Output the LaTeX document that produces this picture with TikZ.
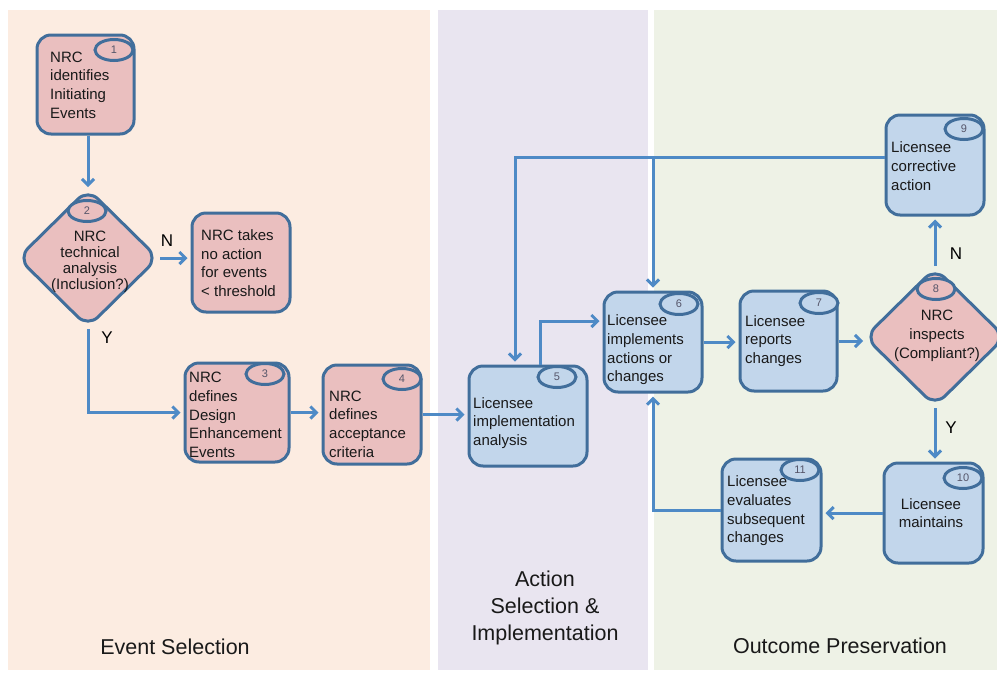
\documentclass[tikz,border=0pt]{standalone}
\usepackage{fontspec}
\setmainfont{Liberation Sans}
\usetikzlibrary{shapes.geometric,arrows.meta}
\definecolor{peach}{RGB}{252,236,225}
\definecolor{lav}{RGB}{233,229,240}
\definecolor{sage}{RGB}{238,242,230}
\definecolor{pinkf}{RGB}{234,191,191}
\definecolor{bluef}{RGB}{194,214,235}
\definecolor{bordc}{RGB}{65,110,155}
\definecolor{arrc}{RGB}{78,138,198}
\definecolor{numc}{RGB}{85,85,105}
\tikzset{
  boxshape/.style={draw=bordc, line width=3pt, rounded corners=14pt, inner sep=0pt},
  pinkbox/.style={boxshape, fill=pinkf},
  bluebox/.style={boxshape, fill=bluef},
  dshape/.style={diamond, draw=bordc, line width=3pt, rounded corners=14pt, inner sep=0pt, fill=pinkf},
  badge/.style={ellipse, draw=bordc, line width=3pt, inner sep=0pt, minimum width=38pt, minimum height=21pt, font=\fontsize{11}{13}\selectfont, text=numc},
  txt/.style={anchor=west, inner sep=0pt, align=left, font=\fontsize{15}{18.7}\selectfont, text=black!90},
  ctxt/.style={inner sep=0pt, align=center, font=\fontsize{15}{18.7}\selectfont, text=black!90},
  arr/.style={draw=arrc, line width=3pt, -{Straight Barb[length=6pt,width=12pt]}, shorten >=3pt},
  yn/.style={font=\fontsize{17}{20}\selectfont, inner sep=0pt},
  sect/.style={align=center, inner sep=0pt, font=\fontsize{21.5}{27}\selectfont, text=black!90}
}
\begin{document}
\begin{tikzpicture}[x=1pt,y=-1pt]
\useasboundingbox (0,0) rectangle (997,673);
\fill[white] (0,0) rectangle (997,673);
% panels
\fill[peach] (8,10) rectangle (430,670);
\fill[lav] (438,10) rectangle (648,670);
\fill[sage] (654,10) rectangle (997,670);
% section labels
\node[sect] (s1) at (175,647) {Event Selection};
\node[sect] (s2) at (545,608) {Action\\Selection \&\\Implementation};
\node[sect] (s3) at (840,646) {Outcome Preservation};
% boxes
\node[pinkbox, minimum width=97pt, minimum height=99pt] (n1) at (85.5,84.5) {};
\node[dshape, minimum width=141pt, minimum height=139pt] (d2) at (88,258) {};
\node[pinkbox, minimum width=98pt, minimum height=99pt] (n2n) at (241,262.5) {};
\node[pinkbox, minimum width=104pt, minimum height=99pt] (n3) at (237,412.5) {};
\node[pinkbox, minimum width=98pt, minimum height=99pt] (n4) at (372,414.5) {};
\node[bluebox, minimum width=118pt, minimum height=100pt] (n5) at (528,416) {};
\node[bluebox, minimum width=98pt, minimum height=100pt] (n6) at (653,342) {};
\node[bluebox, minimum width=97pt, minimum height=100pt] (n7) at (788.5,341) {};
\node[dshape, minimum width=141pt, minimum height=139pt] (d8) at (935,337) {};
\node[bluebox, minimum width=98pt, minimum height=100pt] (n9) at (935,165) {};
\node[bluebox, minimum width=99pt, minimum height=100pt] (n10) at (933.5,513) {};
\node[bluebox, minimum width=99pt, minimum height=102pt] (n11) at (771.5,510) {};
% texts
\node[txt] (t1) at (50,85) {NRC\\identifies\\Initiating\\Events};
\node[ctxt, font=\fontsize{15}{16}\selectfont] (td2) at (90,262) {NRC\\technical\\analysis\\(Inclusion?)};
\node[txt] (t2n) at (201,263) {NRC takes\\no action\\for events\\< threshold};
\node[txt] (t3) at (189,415) {NRC\\defines\\Design\\Enhancement\\Events};
\node[txt] (t4) at (329,424) {NRC\\defines\\acceptance\\criteria};
\node[txt] (t5) at (473,423) {Licensee\\implementation\\analysis};
\node[txt] (t6) at (607,350) {Licensee\\implements\\actions or\\changes};
\node[txt] (t7) at (745,341) {Licensee\\reports\\changes};
\node[ctxt] (td8) at (937,336) {NRC\\inspects\\(Compliant?)};
\node[txt] (t9) at (891,166) {Licensee\\corrective\\action};
\node[ctxt] (t10) at (931,513) {Licensee\\maintains};
\node[txt] (t11) at (727,511) {Licensee\\evaluates\\subsequent\\changes};
% badges
\node[badge, fill=pinkf] (b1) at (114,50) {1};
\node[badge, fill=pinkf] (b2) at (87,211) {2};
\node[badge, fill=pinkf] (b3) at (265,374) {3};
\node[badge, fill=pinkf] (b4) at (402,379) {4};
\node[badge, fill=bluef] (b5) at (557,377) {5};
\node[badge, fill=bluef] (b6) at (679,304) {6};
\node[badge, fill=bluef] (b7) at (819,303) {7};
\node[badge, fill=pinkf] (b8) at (936,289) {8};
\node[badge, fill=bluef] (b9) at (964,129) {9};
\node[badge, fill=bluef] (b10) at (963,478) {10};
\node[badge, fill=bluef] (b11) at (800,470) {11};
% connectors
\draw[arr, shorten >=0pt] (n1.south -| d2.north) -- (d2.north);
\draw[arr] (d2.east) -- (d2.east -| n2n.west);
\draw[arr] (d2.south) |- (n3.west);
\draw[arr] (n3.east) -- (n3.east -| n4.west);
\draw[arr] (n4.east) -- (n4.east -| n5.west);
\draw[arr] ([xshift=12pt]n5.north) |- ([yshift=21pt]n6.west);
\draw[arr] (n6.east) -- (n6.east -| n7.west);
\draw[arr, shorten >=0pt] (n7.east) -- (n7.east -| d8.west);
\draw[arr] (d8.north) -- (d8.north |- n9.south);
\draw[arr] (d8.south) -- (d8.south |- n10.north);
\draw[arr] (n10.west) -- (n10.west -| n11.east);
\draw[arr] (n11.west) -| (n6.south);
\coordinate (c9) at ([yshift=8pt]n9.west);
\draw[arr] (c9) -| ([xshift=-13pt]n5.north);
\draw[arr] (n6.north |- c9) -- (n6.north);
% Y/N labels
\node[yn] (l2n) at (167,241) {N};
\node[yn] (l2y) at (107,338) {Y};
\node[yn] (l8n) at (956,254) {N};
\node[yn] (l8y) at (951,428) {Y};
\end{tikzpicture}
\end{document}
